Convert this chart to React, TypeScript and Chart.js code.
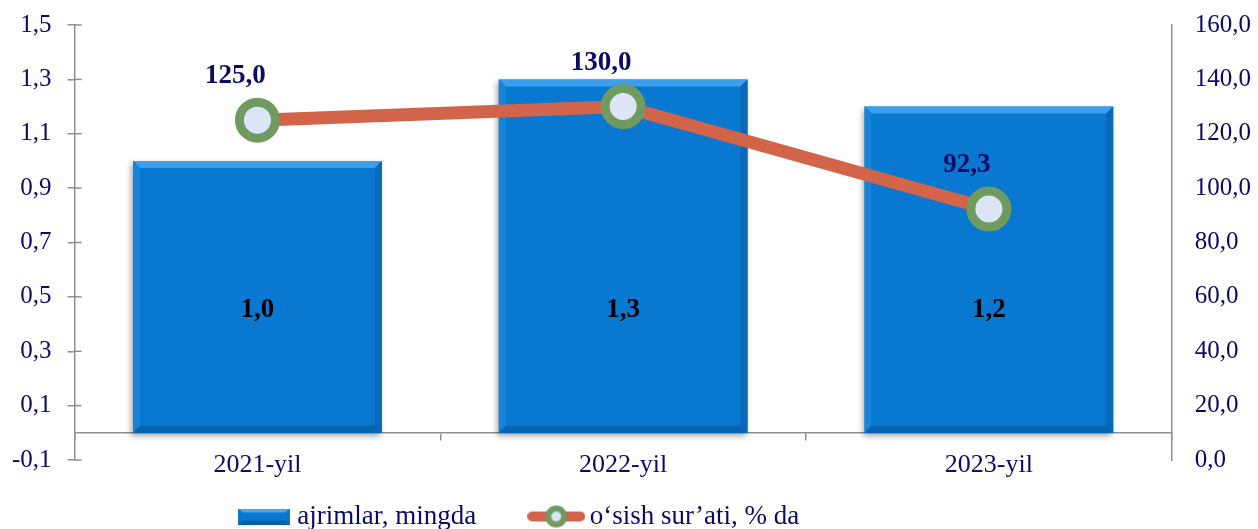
import React, { useEffect, useRef } from "react";
import { Chart, registerables } from "chart.js";

Chart.register(...registerables);

const categories = ["2021-yil", "2022-yil", "2023-yil"];
const ajrimlar = [1.0, 1.3, 1.2];
const osishSurati = [125.0, 130.0, 92.3];
const barLabel = "ajrimlar, mingda";
const lineLabel = "o‘sish sur’ati, % da";
const leftTicks = { min: -0.1, max: 1.5, step: 0.2 };
const rightTicks = { min: 0, max: 160, step: 20 };

const FONT = "'Times New Roman', 'Liberation Serif', serif";
const NAVY = "#0b0b66";
const AXIS = "#8f8f8f";
const BAR = "#0878d0";
const LINE = "#d2644a";
const RING = "#6f9b61";
const CORE = "#dbe5f6";

const fmt = (v: number) => Number(v).toFixed(1).replace(".", ",");

function makeBarIcon() {
  const c = document.createElement("canvas");
  c.width = 52;
  c.height = 16;
  const g = c.getContext("2d")!;
  g.fillStyle = BAR;
  g.fillRect(0, 0, 52, 16);
  g.fillStyle = "#47a8f0";
  g.beginPath();
  g.moveTo(0, 0); g.lineTo(52, 0); g.lineTo(47, 4); g.lineTo(5, 4); g.closePath();
  g.fill();
  g.fillStyle = "#0560ad";
  g.beginPath();
  g.moveTo(0, 16); g.lineTo(52, 16); g.lineTo(47, 12); g.lineTo(5, 12); g.closePath();
  g.fill();
  return c;
}

function makeLineIcon() {
  const c = document.createElement("canvas");
  c.width = 58;
  c.height = 24;
  const g = c.getContext("2d")!;
  g.strokeStyle = LINE;
  g.lineWidth = 10;
  g.lineCap = "round";
  g.beginPath();
  g.moveTo(5, 12); g.lineTo(53, 12);
  g.stroke();
  g.fillStyle = RING;
  g.beginPath(); g.arc(29, 12, 11, 0, Math.PI * 2); g.fill();
  g.fillStyle = CORE;
  g.beginPath(); g.arc(29, 12, 5, 0, Math.PI * 2); g.fill();
  return c;
}

const noPad = (s: any) => {
  s.paddingTop = 0;
  s.paddingBottom = 0;
  s.paddingLeft = 0;
  s.paddingRight = 0;
};

const fitY = (s: any) => {
  noPad(s);
  s.width -= s.options.ticks.padding;
};

const decorPlugin = {
  id: "decor",
  afterLayout(chart: any) {
    const l = chart.legend;
    if (l) {
      const dx = -110;
      const dy = -17;
      l.left += dx; l.right += dx; l.top += dy; l.bottom += dy;
    }
  },
  beforeDatasetDraw(chart: any, args: any) {
    if (args.meta.type === "bar") {
      const ctx = chart.ctx;
      ctx.save();
      ctx.shadowColor = "rgba(0,0,0,0.35)";
      ctx.shadowBlur = 6;
      ctx.shadowOffsetX = -2;
      ctx.shadowOffsetY = 3;
    }
  },
  afterDatasetDraw(chart: any, args: any) {
    if (args.meta.type !== "bar") return;
    const ctx = chart.ctx;
    ctx.restore();
    const b = 7;
    args.meta.data.forEach((el: any) => {
      const { x, y, base, width } = el.getProps(["x", "y", "base", "width"], true);
      const L = x - width / 2, R = x + width / 2, T = y, B = base;
      ctx.save();
      ctx.fillStyle = "#3d9fec";
      ctx.beginPath();
      ctx.moveTo(L, T); ctx.lineTo(R, T); ctx.lineTo(R - b, T + b); ctx.lineTo(L + b, T + b); ctx.closePath();
      ctx.fill();
      ctx.fillStyle = "#0a68b8";
      ctx.beginPath();
      ctx.moveTo(R, T); ctx.lineTo(R, B); ctx.lineTo(R - b, B - b); ctx.lineTo(R - b, T + b); ctx.closePath();
      ctx.fill();
      ctx.fillStyle = "#1584d9";
      ctx.beginPath();
      ctx.moveTo(L, T); ctx.lineTo(L, B); ctx.lineTo(L + b, B - b); ctx.lineTo(L + b, T + b); ctx.closePath();
      ctx.fill();
      ctx.fillStyle = "#0664b0";
      ctx.beginPath();
      ctx.moveTo(L, B); ctx.lineTo(R, B); ctx.lineTo(R - b, B - b); ctx.lineTo(L + b, B - b); ctx.closePath();
      ctx.fill();
      ctx.restore();
    });
  },
  afterDraw(chart: any) {
    const ctx = chart.ctx;
    const ys = chart.scales.y;
    ctx.save();
    ctx.strokeStyle = AXIS;
    ctx.lineWidth = 1.5;
    ys.ticks.forEach((_t: any, i: number) => {
      const py = ys.getPixelForTick(i);
      ctx.beginPath();
      ctx.moveTo(ys.right, py);
      ctx.lineTo(ys.right + 7, py);
      ctx.stroke();
    });
    ctx.restore();

    ctx.save();
    ctx.textAlign = "center";
    ctx.textBaseline = "middle";
    const barMeta = chart.getDatasetMeta(0);
    ctx.font = `bold 27px ${FONT}`;
    ctx.fillStyle = "#000000";
    const labelY = ys.getPixelForValue(0.45);
    barMeta.data.forEach((el: any, i: number) => {
      ctx.fillText(fmt(ajrimlar[i]), el.x, labelY);
    });
    const lineMeta = chart.getDatasetMeta(1);
    ctx.fillStyle = NAVY;
    lineMeta.data.forEach((el: any, i: number) => {
      ctx.fillText(fmt(osishSurati[i]), el.x - 22, el.y - 44);
    });
    ctx.restore();
  },
};

export default function App() {
  const ref = useRef<HTMLCanvasElement | null>(null);

  useEffect(() => {
    if (!ref.current) return;
    const barIcon = makeBarIcon();
    const lineIcon = makeLineIcon();
    const chart = new Chart(ref.current, {
      data: {
        labels: categories,
        datasets: [
          {
            type: "bar",
            label: barLabel,
            data: ajrimlar,
            yAxisID: "y",
            backgroundColor: BAR,
            borderWidth: 0,
            barPercentage: 0.68,
            categoryPercentage: 1,
            order: 1,
          },
          {
            type: "line",
            label: lineLabel,
            data: osishSurati,
            yAxisID: "y1",
            borderColor: LINE,
            borderWidth: 13,
            pointRadius: 18,
            pointBorderWidth: 9,
            pointBackgroundColor: CORE,
            pointBorderColor: RING,
            tension: 0,
            order: 0,
          },
        ],
      } as any,
      options: {
        animation: false,
        responsive: true,
        maintainAspectRatio: false,
        layout: { autoPadding: false, padding: { top: 25, left: 12, right: 7, bottom: -28 } },
        plugins: {
          tooltip: { enabled: false },
          legend: {
            position: "bottom",
            labels: {
              usePointStyle: true,
              pointStyleWidth: 40,
              padding: 60,
              color: NAVY,
              font: { family: FONT, size: 27 },
              generateLabels: () => [
                { text: barLabel, pointStyle: barIcon, fontColor: NAVY, datasetIndex: 0, lineWidth: 0, strokeStyle: "transparent", fillStyle: "transparent" },
                { text: lineLabel, pointStyle: lineIcon, fontColor: NAVY, datasetIndex: 1, lineWidth: 0, strokeStyle: "transparent", fillStyle: "transparent" },
              ] as any,
            },
          },
        },
        scales: {
          x: {
            type: "category",
            position: { y: 0 } as any,
            offset: true,
            afterFit: noPad,
            grid: { display: true, drawOnChartArea: false, drawTicks: true, tickLength: 7, color: AXIS, lineWidth: 1.5, offset: true },
            border: { display: true, color: AXIS, width: 1.5 },
            ticks: { color: NAVY, font: { family: FONT, size: 26 }, padding: 10, maxRotation: 0 },
          },
          y: {
            type: "linear",
            position: "left",
            min: leftTicks.min,
            max: leftTicks.max,
            afterFit: fitY,
            grid: { display: true, drawOnChartArea: false, tickLength: 7, color: AXIS, lineWidth: 1.5 },
            border: { display: true, color: AXIS, width: 1.5 },
            ticks: { stepSize: leftTicks.step, color: NAVY, font: { family: FONT, size: 25 }, padding: 16, callback: (v: any) => fmt(v) },
          },
          y1: {
            type: "linear",
            position: "right",
            min: rightTicks.min,
            max: rightTicks.max,
            afterFit: fitY,
            grid: { display: false, drawTicks: false, tickLength: 0 },
            border: { display: true, color: AXIS, width: 1.5 },
            ticks: { stepSize: rightTicks.step, color: NAVY, font: { family: FONT, size: 25 }, padding: 23, callback: (v: any) => fmt(v) },
          },
        },
      } as any,
      plugins: [decorPlugin],
    });
    return () => chart.destroy();
  }, []);

  return (
    <div style={{ position: "fixed", left: 0, top: 0, width: "100vw", height: "100vh", background: "#ffffff" }}>
      <canvas ref={ref} />
    </div>
  );
}
